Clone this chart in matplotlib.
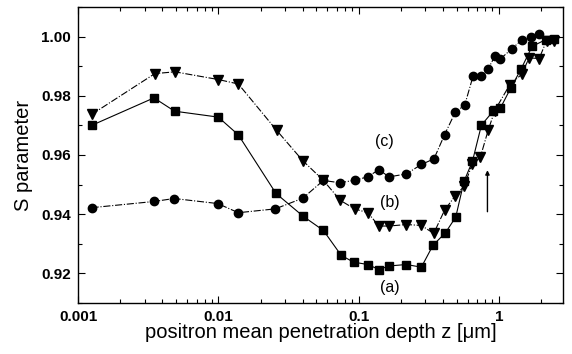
import matplotlib
matplotlib.use("Agg")
import matplotlib.pyplot as plt
from matplotlib.ticker import LogLocator, NullFormatter, FixedLocator, MultipleLocator

plt.rcParams['font.family'] = ['Liberation Sans', 'DejaVu Sans']

# series (a) squares
xa = [0.00125, 0.00348, 0.00488, 0.0100, 0.0139, 0.0258, 0.0403, 0.0562, 0.0752, 0.0921,
      0.1165, 0.1397, 0.1646, 0.219, 0.2805, 0.3395, 0.416, 0.493, 0.565, 0.649,
      0.752, 0.911, 1.028, 1.219, 1.436, 1.729, 2.167, 2.472]
ya = [0.9700, 0.9793, 0.9748, 0.9728, 0.9668, 0.9470, 0.9393, 0.9345, 0.9261, 0.9238,
      0.9230, 0.9213, 0.9225, 0.9230, 0.9221, 0.9295, 0.9337, 0.9390, 0.9511, 0.9579,
      0.9701, 0.9748, 0.9759, 0.9827, 0.9889, 0.9967, 0.9990, 0.9993]

# series (b) triangles
xb = [0.00125, 0.00353, 0.00491, 0.0100, 0.0139, 0.0261, 0.0400, 0.0562, 0.0740, 0.0936,
      0.1165, 0.1397, 0.1646, 0.219, 0.2805, 0.3435, 0.411, 0.491, 0.565, 0.645,
      0.740, 0.839, 0.936, 1.199, 1.452, 1.645, 1.94, 2.19, 2.47]
yb = [0.9737, 0.9875, 0.9881, 0.9855, 0.9840, 0.9683, 0.9581, 0.9514, 0.9447, 0.9418,
      0.9405, 0.9360, 0.9360, 0.9365, 0.9362, 0.9335, 0.9414, 0.9463, 0.9494, 0.9568,
      0.9594, 0.9683, 0.9750, 0.9838, 0.9872, 0.9928, 0.9926, 0.9986, 0.9986]

# series (c) circles
xc = [0.00125, 0.00349, 0.00484, 0.0099, 0.0139, 0.0255, 0.0400, 0.0562, 0.0740, 0.0936,
      0.1165, 0.1397, 0.1646, 0.219, 0.2805, 0.345, 0.411, 0.491, 0.571, 0.655,
      0.743, 0.839, 0.936, 1.028, 1.233, 1.452, 1.684, 1.93]
yc = [0.9422, 0.9443, 0.9453, 0.9436, 0.9405, 0.9418, 0.9454, 0.9514, 0.9506, 0.9515,
      0.9526, 0.9551, 0.9526, 0.9536, 0.9568, 0.9587, 0.9669, 0.9746, 0.9768, 0.9866,
      0.9866, 0.9891, 0.9933, 0.9925, 0.9958, 0.9988, 0.9998, 1.0010]

labels = ["(a)", "(b)", "(c)"]
label_x = [0.166, 0.166, 0.1535]
label_y = [0.9152, 0.9440, 0.9646]

arrow_x = 0.83
arrow_y = [0.9399, 0.9558]

xticks = [0.001, 0.01, 0.1, 1]
xticklabels = ["0.001", "0.01", "0.1", "1"]
yticks = [0.92, 0.94, 0.96, 0.98, 1.00]
yticklabels = ["0.92", "0.94", "0.96", "0.98", "1.00"]

fig = plt.figure(figsize=(5.72, 3.54), dpi=100)
ax = fig.add_axes([0.1364, 0.1441, 0.8479, 0.8361])

lw = 0.8
ax.plot(xa, ya, '-', color='black', lw=lw, marker='s', ms=5.8, mec='black', mfc='black')
ax.plot(xb, yb, '-.', color='black', lw=lw, marker='v', ms=6.5, mec='black', mfc='black')
ax.plot(xc, yc, '-.', color='black', lw=lw, marker='o', ms=6.0, mec='black', mfc='black')

for t, x, y in zip(labels, label_x, label_y):
    ax.text(x, y, t, ha='center', va='center', fontsize=11.5)

ax.annotate('', xy=(arrow_x, arrow_y[1]), xytext=(arrow_x, arrow_y[0]),
            arrowprops=dict(arrowstyle='-|>', color='black', lw=1.0, mutation_scale=6))

ax.set_xscale('log')
ax.set_xlim(0.001, 2.87)
ax.set_ylim(0.91, 1.01)

ax.xaxis.set_major_locator(FixedLocator(xticks))
ax.set_xticks(xticks)
ax.set_xticklabels(xticklabels, fontweight='bold', fontsize=11)
ax.xaxis.set_minor_locator(LogLocator(base=10, subs=range(2, 10)))
ax.xaxis.set_minor_formatter(NullFormatter())
ax.set_yticks(yticks)
ax.set_yticklabels(yticklabels, fontweight='bold', fontsize=11)
ax.yaxis.set_minor_locator(MultipleLocator(0.01))

ax.tick_params(which='both', direction='in', top=True, right=True, width=0.8)
ax.tick_params(which='major', length=5, pad=5)
ax.tick_params(which='minor', length=3)
for s in ax.spines.values():
    s.set_linewidth(1.0)

ax.set_xlabel('positron mean penetration depth z [\u03bcm]', fontsize=14.5, labelpad=-1)
ax.set_ylabel('S parameter', fontsize=14.5, labelpad=6)

fig.savefig('out.png', dpi=100)
